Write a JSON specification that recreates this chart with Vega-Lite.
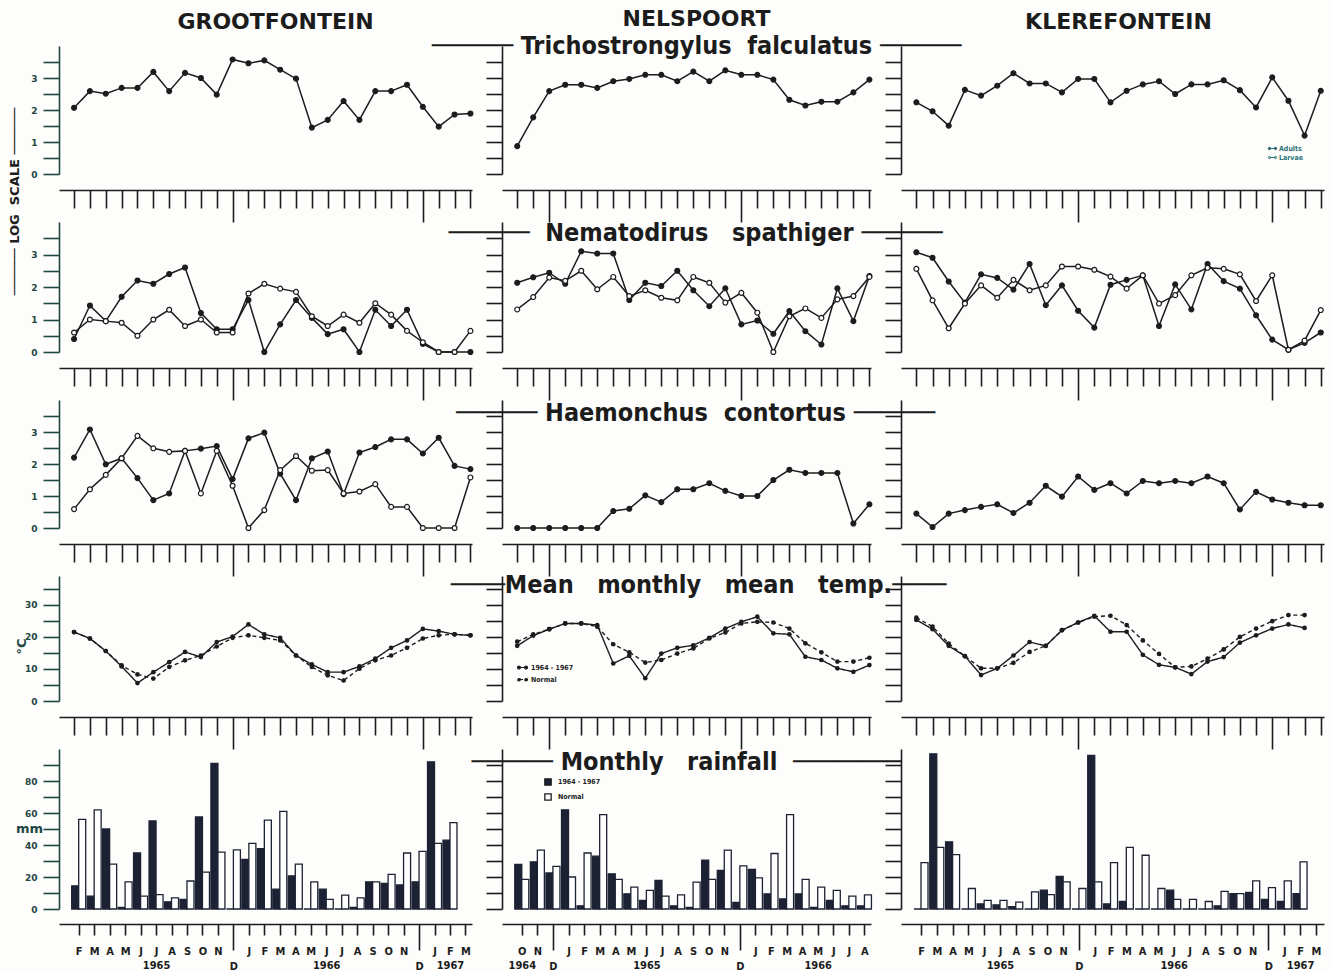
{
"$schema": "https://vega.github.io/schema/vega-lite/v6.json",
"padding": {"left": 8, "top": 8, "right": 5, "bottom": 0},
"background": "#fdfdfb",
"columns": 3,
"spacing": {"row": 48, "column": 30},
"bounds": "flush",
"resolve": {"scale": {"fill": "independent", "strokeDash": "independent"}, "legend": {"fill": "independent", "strokeDash": "independent"}},
"datasets": {
"t_g": [{"m":0,"s":"A","v":2.07},{"m":1,"s":"A","v":2.59},{"m":2,"s":"A","v":2.51},{"m":3,"s":"A","v":2.69},{"m":4,"s":"A","v":2.69},{"m":5,"s":"A","v":3.19},{"m":6,"s":"A","v":2.59},{"m":7,"s":"A","v":3.16},{"m":8,"s":"A","v":3.0},{"m":9,"s":"A","v":2.48},{"m":10,"s":"A","v":3.58},{"m":11,"s":"A","v":3.46},{"m":12,"s":"A","v":3.55},{"m":13,"s":"A","v":3.26},{"m":14,"s":"A","v":2.98},{"m":15,"s":"A","v":1.45},{"m":16,"s":"A","v":1.69},{"m":17,"s":"A","v":2.28},{"m":18,"s":"A","v":1.69},{"m":19,"s":"A","v":2.59},{"m":20,"s":"A","v":2.59},{"m":21,"s":"A","v":2.79},{"m":22,"s":"A","v":2.1},{"m":23,"s":"A","v":1.48},{"m":24,"s":"A","v":1.86},{"m":25,"s":"A","v":1.89}],
"t_n": [{"m":0,"s":"A","v":0.87},{"m":1,"s":"A","v":1.77},{"m":2,"s":"A","v":2.59},{"m":3,"s":"A","v":2.79},{"m":4,"s":"A","v":2.79},{"m":5,"s":"A","v":2.69},{"m":6,"s":"A","v":2.9},{"m":7,"s":"A","v":2.97},{"m":8,"s":"A","v":3.1},{"m":9,"s":"A","v":3.1},{"m":10,"s":"A","v":2.9},{"m":11,"s":"A","v":3.2},{"m":12,"s":"A","v":2.9},{"m":13,"s":"A","v":3.24},{"m":14,"s":"A","v":3.1},{"m":15,"s":"A","v":3.1},{"m":16,"s":"A","v":2.95},{"m":17,"s":"A","v":2.32},{"m":18,"s":"A","v":2.14},{"m":19,"s":"A","v":2.26},{"m":20,"s":"A","v":2.26},{"m":21,"s":"A","v":2.55},{"m":22,"s":"A","v":2.95}],
"t_k": [{"m":0,"s":"A","v":2.24},{"m":1,"s":"A","v":1.96},{"m":2,"s":"A","v":1.51},{"m":3,"s":"A","v":2.63},{"m":4,"s":"A","v":2.45},{"m":5,"s":"A","v":2.76},{"m":6,"s":"A","v":3.15},{"m":7,"s":"A","v":2.83},{"m":8,"s":"A","v":2.83},{"m":9,"s":"A","v":2.55},{"m":10,"s":"A","v":2.97},{"m":11,"s":"A","v":2.97},{"m":12,"s":"A","v":2.24},{"m":13,"s":"A","v":2.6},{"m":14,"s":"A","v":2.8},{"m":15,"s":"A","v":2.9},{"m":16,"s":"A","v":2.5},{"m":17,"s":"A","v":2.8},{"m":18,"s":"A","v":2.8},{"m":19,"s":"A","v":2.93},{"m":20,"s":"A","v":2.62},{"m":21,"s":"A","v":2.08},{"m":22,"s":"A","v":3.02},{"m":23,"s":"A","v":2.29},{"m":24,"s":"A","v":1.2},{"m":25,"s":"A","v":2.6}],
"n_g": [{"m":0,"s":"A","v":0.4},{"m":1,"s":"A","v":1.43},{"m":2,"s":"A","v":0.95},{"m":3,"s":"A","v":1.7},{"m":4,"s":"A","v":2.2},{"m":5,"s":"A","v":2.1},{"m":6,"s":"A","v":2.4},{"m":7,"s":"A","v":2.6},{"m":8,"s":"A","v":1.2},{"m":9,"s":"A","v":0.7},{"m":10,"s":"A","v":0.7},{"m":11,"s":"A","v":1.6},{"m":12,"s":"A","v":0},{"m":13,"s":"A","v":0.85},{"m":14,"s":"A","v":1.6},{"m":15,"s":"A","v":1.05},{"m":16,"s":"A","v":0.55},{"m":17,"s":"A","v":0.7},{"m":18,"s":"A","v":0},{"m":19,"s":"A","v":1.3},{"m":20,"s":"A","v":0.8},{"m":21,"s":"A","v":1.3},{"m":22,"s":"A","v":0.25},{"m":23,"s":"A","v":0},{"m":24,"s":"A","v":0},{"m":25,"s":"A","v":0},
{"m":0,"s":"L","v":0.6},{"m":1,"s":"L","v":1.0},{"m":2,"s":"L","v":0.95},{"m":3,"s":"L","v":0.9},{"m":4,"s":"L","v":0.5},{"m":5,"s":"L","v":1.0},{"m":6,"s":"L","v":1.3},{"m":7,"s":"L","v":0.8},{"m":8,"s":"L","v":1.0},{"m":9,"s":"L","v":0.6},{"m":10,"s":"L","v":0.6},{"m":11,"s":"L","v":1.8},{"m":12,"s":"L","v":2.1},{"m":13,"s":"L","v":1.95},{"m":14,"s":"L","v":1.85},{"m":15,"s":"L","v":1.1},{"m":16,"s":"L","v":0.8},{"m":17,"s":"L","v":1.15},{"m":18,"s":"L","v":0.9},{"m":19,"s":"L","v":1.5},{"m":20,"s":"L","v":1.15},{"m":21,"s":"L","v":0.65},{"m":22,"s":"L","v":0.3},{"m":23,"s":"L","v":0},{"m":24,"s":"L","v":0},{"m":25,"s":"L","v":0.65}],
"n_n": [{"m":0,"s":"A","v":2.13},{"m":1,"s":"A","v":2.3},{"m":2,"s":"A","v":2.44},{"m":3,"s":"A","v":2.1},{"m":4,"s":"A","v":3.1},{"m":5,"s":"A","v":3.03},{"m":6,"s":"A","v":3.03},{"m":7,"s":"A","v":1.6},{"m":8,"s":"A","v":2.13},{"m":9,"s":"A","v":2.03},{"m":10,"s":"A","v":2.5},{"m":11,"s":"A","v":1.9},{"m":12,"s":"A","v":1.41},{"m":13,"s":"A","v":1.96},{"m":14,"s":"A","v":0.85},{"m":15,"s":"A","v":0.97},{"m":16,"s":"A","v":0.56},{"m":17,"s":"A","v":1.26},{"m":18,"s":"A","v":0.64},{"m":19,"s":"A","v":0.23},{"m":20,"s":"A","v":1.96},{"m":21,"s":"A","v":0.95},{"m":22,"s":"A","v":2.34},
{"m":0,"s":"L","v":1.31},{"m":1,"s":"L","v":1.69},{"m":2,"s":"L","v":2.29},{"m":3,"s":"L","v":2.19},{"m":4,"s":"L","v":2.5},{"m":5,"s":"L","v":1.93},{"m":6,"s":"L","v":2.31},{"m":7,"s":"L","v":1.72},{"m":8,"s":"L","v":1.9},{"m":9,"s":"L","v":1.67},{"m":10,"s":"L","v":1.59},{"m":11,"s":"L","v":2.31},{"m":12,"s":"L","v":2.13},{"m":13,"s":"L","v":1.52},{"m":14,"s":"L","v":1.82},{"m":15,"s":"L","v":1.21},{"m":16,"s":"L","v":0},{"m":17,"s":"L","v":1.1},{"m":18,"s":"L","v":1.34},{"m":19,"s":"L","v":1.05},{"m":20,"s":"L","v":1.62},{"m":21,"s":"L","v":1.72},{"m":22,"s":"L","v":2.31}],
"n_k": [{"m":0,"s":"A","v":3.07},{"m":1,"s":"A","v":2.9},{"m":2,"s":"A","v":2.17},{"m":3,"s":"A","v":1.52},{"m":4,"s":"A","v":2.39},{"m":5,"s":"A","v":2.28},{"m":6,"s":"A","v":1.92},{"m":7,"s":"A","v":2.71},{"m":8,"s":"A","v":1.44},{"m":9,"s":"A","v":2.05},{"m":10,"s":"A","v":1.27},{"m":11,"s":"A","v":0.75},{"m":12,"s":"A","v":2.07},{"m":13,"s":"A","v":2.22},{"m":14,"s":"A","v":2.36},{"m":15,"s":"A","v":0.8},{"m":16,"s":"A","v":2.08},{"m":17,"s":"A","v":1.31},{"m":18,"s":"A","v":2.71},{"m":19,"s":"A","v":2.18},{"m":20,"s":"A","v":1.95},{"m":21,"s":"A","v":1.13},{"m":22,"s":"A","v":0.38},{"m":23,"s":"A","v":0.07},{"m":24,"s":"A","v":0.28},{"m":25,"s":"A","v":0.6},
{"m":0,"s":"L","v":2.56},{"m":1,"s":"L","v":1.59},{"m":2,"s":"L","v":0.73},{"m":3,"s":"L","v":1.49},{"m":4,"s":"L","v":2.05},{"m":5,"s":"L","v":1.67},{"m":6,"s":"L","v":2.22},{"m":7,"s":"L","v":1.9},{"m":8,"s":"L","v":2.05},{"m":9,"s":"L","v":2.63},{"m":10,"s":"L","v":2.63},{"m":11,"s":"L","v":2.53},{"m":12,"s":"L","v":2.32},{"m":13,"s":"L","v":1.95},{"m":14,"s":"L","v":2.36},{"m":15,"s":"L","v":1.49},{"m":16,"s":"L","v":1.75},{"m":17,"s":"L","v":2.36},{"m":18,"s":"L","v":2.59},{"m":19,"s":"L","v":2.56},{"m":20,"s":"L","v":2.39},{"m":21,"s":"L","v":1.57},{"m":22,"s":"L","v":2.36},{"m":23,"s":"L","v":0.07},{"m":24,"s":"L","v":0.35},{"m":25,"s":"L","v":1.29}],
"h_g": [{"m":0,"s":"A","v":2.2},{"m":1,"s":"A","v":3.08},{"m":2,"s":"A","v":1.99},{"m":3,"s":"A","v":2.18},{"m":4,"s":"A","v":1.56},{"m":5,"s":"A","v":0.87},{"m":6,"s":"A","v":1.08},{"m":7,"s":"A","v":2.41},{"m":8,"s":"A","v":2.48},{"m":9,"s":"A","v":2.56},{"m":10,"s":"A","v":1.53},{"m":11,"s":"A","v":2.8},{"m":12,"s":"A","v":2.98},{"m":13,"s":"A","v":1.7},{"m":14,"s":"A","v":0.87},{"m":15,"s":"A","v":2.18},{"m":16,"s":"A","v":2.39},{"m":17,"s":"A","v":1.06},{"m":18,"s":"A","v":2.36},{"m":19,"s":"A","v":2.53},{"m":20,"s":"A","v":2.77},{"m":21,"s":"A","v":2.77},{"m":22,"s":"A","v":2.33},{"m":23,"s":"A","v":2.82},{"m":24,"s":"A","v":1.94},{"m":25,"s":"A","v":1.84},
{"m":0,"s":"L","v":0.59},{"m":1,"s":"L","v":1.21},{"m":2,"s":"L","v":1.66},{"m":3,"s":"L","v":2.18},{"m":4,"s":"L","v":2.88},{"m":5,"s":"L","v":2.49},{"m":6,"s":"L","v":2.38},{"m":7,"s":"L","v":2.41},{"m":8,"s":"L","v":1.08},{"m":9,"s":"L","v":2.41},{"m":10,"s":"L","v":1.32},{"m":11,"s":"L","v":0},{"m":12,"s":"L","v":0.56},{"m":13,"s":"L","v":1.81},{"m":14,"s":"L","v":2.25},{"m":15,"s":"L","v":1.79},{"m":16,"s":"L","v":1.81},{"m":17,"s":"L","v":1.08},{"m":18,"s":"L","v":1.14},{"m":19,"s":"L","v":1.37},{"m":20,"s":"L","v":0.66},{"m":21,"s":"L","v":0.66},{"m":22,"s":"L","v":0},{"m":23,"s":"L","v":0},{"m":24,"s":"L","v":0},{"m":25,"s":"L","v":1.58}],
"h_n": [{"m":0,"s":"A","v":0},{"m":1,"s":"A","v":0},{"m":2,"s":"A","v":0},{"m":3,"s":"A","v":0},{"m":4,"s":"A","v":0},{"m":5,"s":"A","v":0},{"m":6,"s":"A","v":0.53},{"m":7,"s":"A","v":0.6},{"m":8,"s":"A","v":1.02},{"m":9,"s":"A","v":0.81},{"m":10,"s":"A","v":1.21},{"m":11,"s":"A","v":1.21},{"m":12,"s":"A","v":1.4},{"m":13,"s":"A","v":1.16},{"m":14,"s":"A","v":1.0},{"m":15,"s":"A","v":1.0},{"m":16,"s":"A","v":1.5},{"m":17,"s":"A","v":1.82},{"m":18,"s":"A","v":1.72},{"m":19,"s":"A","v":1.72},{"m":20,"s":"A","v":1.72},{"m":21,"s":"A","v":0.14},{"m":22,"s":"A","v":0.74}],
"h_k": [{"m":0,"s":"A","v":0.45},{"m":1,"s":"A","v":0.03},{"m":2,"s":"A","v":0.45},{"m":3,"s":"A","v":0.56},{"m":4,"s":"A","v":0.66},{"m":5,"s":"A","v":0.74},{"m":6,"s":"A","v":0.47},{"m":7,"s":"A","v":0.79},{"m":8,"s":"A","v":1.32},{"m":9,"s":"A","v":0.98},{"m":10,"s":"A","v":1.61},{"m":11,"s":"A","v":1.19},{"m":12,"s":"A","v":1.4},{"m":13,"s":"A","v":1.08},{"m":14,"s":"A","v":1.47},{"m":15,"s":"A","v":1.4},{"m":16,"s":"A","v":1.47},{"m":17,"s":"A","v":1.4},{"m":18,"s":"A","v":1.61},{"m":19,"s":"A","v":1.4},{"m":20,"s":"A","v":0.58},{"m":21,"s":"A","v":1.13},{"m":22,"s":"A","v":0.89},{"m":23,"s":"A","v":0.79},{"m":24,"s":"A","v":0.71},{"m":25,"s":"A","v":0.71}],
"c_g": [{"m":0,"s":"A","v":21.5},{"m":1,"s":"A","v":19.5},{"m":2,"s":"A","v":15.6},{"m":3,"s":"A","v":10.8},{"m":4,"s":"A","v":5.6},{"m":5,"s":"A","v":9.0},{"m":6,"s":"A","v":12.1},{"m":7,"s":"A","v":15.3},{"m":8,"s":"A","v":13.7},{"m":9,"s":"A","v":18.4},{"m":10,"s":"A","v":20.1},{"m":11,"s":"A","v":23.9},{"m":12,"s":"A","v":20.8},{"m":13,"s":"A","v":19.7},{"m":14,"s":"A","v":14.2},{"m":15,"s":"A","v":11.4},{"m":16,"s":"A","v":9.0},{"m":17,"s":"A","v":9.0},{"m":18,"s":"A","v":10.8},{"m":19,"s":"A","v":13.2},{"m":20,"s":"A","v":16.6},{"m":21,"s":"A","v":18.9},{"m":22,"s":"A","v":22.5},{"m":23,"s":"A","v":21.8},{"m":24,"s":"A","v":20.8},{"m":25,"s":"A","v":20.5},
{"m":0,"s":"N","v":21.5},{"m":1,"s":"N","v":19.5},{"m":2,"s":"N","v":15.6},{"m":3,"s":"N","v":11.1},{"m":4,"s":"N","v":8.3},{"m":5,"s":"N","v":7.0},{"m":6,"s":"N","v":10.6},{"m":7,"s":"N","v":12.7},{"m":8,"s":"N","v":14.2},{"m":9,"s":"N","v":17.0},{"m":10,"s":"N","v":19.7},{"m":11,"s":"N","v":20.5},{"m":12,"s":"N","v":19.7},{"m":13,"s":"N","v":18.9},{"m":14,"s":"N","v":14.2},{"m":15,"s":"N","v":10.6},{"m":16,"s":"N","v":8.0},{"m":17,"s":"N","v":6.4},{"m":18,"s":"N","v":10.1},{"m":19,"s":"N","v":12.7},{"m":20,"s":"N","v":14.2},{"m":21,"s":"N","v":16.6},{"m":22,"s":"N","v":19.5},{"m":23,"s":"N","v":20.5},{"m":24,"s":"N","v":20.8},{"m":25,"s":"N","v":20.5}],
"c_n": [{"m":0,"s":"A","v":17.2},{"m":1,"s":"A","v":20.4},{"m":2,"s":"A","v":22.4},{"m":3,"s":"A","v":24.2},{"m":4,"s":"A","v":24.2},{"m":5,"s":"A","v":23.7},{"m":6,"s":"A","v":11.7},{"m":7,"s":"A","v":14.1},{"m":8,"s":"A","v":7.1},{"m":9,"s":"A","v":14.8},{"m":10,"s":"A","v":16.6},{"m":11,"s":"A","v":17.4},{"m":12,"s":"A","v":19.7},{"m":13,"s":"A","v":22.6},{"m":14,"s":"A","v":24.7},{"m":15,"s":"A","v":26.3},{"m":16,"s":"A","v":21.1},{"m":17,"s":"A","v":20.8},{"m":18,"s":"A","v":13.8},{"m":19,"s":"A","v":12.8},{"m":20,"s":"A","v":10.2},{"m":21,"s":"A","v":9.1},{"m":22,"s":"A","v":11.2},
{"m":0,"s":"N","v":18.5},{"m":1,"s":"N","v":20.8},{"m":2,"s":"N","v":22.4},{"m":3,"s":"N","v":24.2},{"m":4,"s":"N","v":24.2},{"m":5,"s":"N","v":23.2},{"m":6,"s":"N","v":17.7},{"m":7,"s":"N","v":15.2},{"m":8,"s":"N","v":12.0},{"m":9,"s":"N","v":12.8},{"m":10,"s":"N","v":14.8},{"m":11,"s":"N","v":16.4},{"m":12,"s":"N","v":19.5},{"m":13,"s":"N","v":21.4},{"m":14,"s":"N","v":24.2},{"m":15,"s":"N","v":24.7},{"m":16,"s":"N","v":24.5},{"m":17,"s":"N","v":22.6},{"m":18,"s":"N","v":18.0},{"m":19,"s":"N","v":15.2},{"m":20,"s":"N","v":12.3},{"m":21,"s":"N","v":12.3},{"m":22,"s":"N","v":13.5}],
"c_k": [{"m":0,"s":"A","v":25.3},{"m":1,"s":"A","v":22.4},{"m":2,"s":"A","v":17.2},{"m":3,"s":"A","v":14.0},{"m":4,"s":"A","v":8.1},{"m":5,"s":"A","v":10.2},{"m":6,"s":"A","v":14.2},{"m":7,"s":"A","v":18.4},{"m":8,"s":"A","v":17.2},{"m":9,"s":"A","v":22.1},{"m":10,"s":"A","v":24.5},{"m":11,"s":"A","v":26.6},{"m":12,"s":"A","v":21.6},{"m":13,"s":"A","v":21.6},{"m":14,"s":"A","v":14.4},{"m":15,"s":"A","v":11.3},{"m":16,"s":"A","v":10.5},{"m":17,"s":"A","v":8.4},{"m":18,"s":"A","v":12.3},{"m":19,"s":"A","v":13.7},{"m":20,"s":"A","v":18.2},{"m":21,"s":"A","v":20.5},{"m":22,"s":"A","v":22.6},{"m":23,"s":"A","v":23.9},{"m":24,"s":"A","v":22.8},
{"m":0,"s":"N","v":26.0},{"m":1,"s":"N","v":23.2},{"m":2,"s":"N","v":17.9},{"m":3,"s":"N","v":14.0},{"m":4,"s":"N","v":10.2},{"m":5,"s":"N","v":10.2},{"m":6,"s":"N","v":11.9},{"m":7,"s":"N","v":15.3},{"m":8,"s":"N","v":17.2},{"m":9,"s":"N","v":22.1},{"m":10,"s":"N","v":24.5},{"m":11,"s":"N","v":26.3},{"m":12,"s":"N","v":26.6},{"m":13,"s":"N","v":23.7},{"m":14,"s":"N","v":18.9},{"m":15,"s":"N","v":14.7},{"m":16,"s":"N","v":10.5},{"m":17,"s":"N","v":10.8},{"m":18,"s":"N","v":13.2},{"m":19,"s":"N","v":16.1},{"m":20,"s":"N","v":20.0},{"m":21,"s":"N","v":22.6},{"m":22,"s":"N","v":24.9},{"m":23,"s":"N","v":26.8},{"m":24,"s":"N","v":26.8}],
"r_g": [{"m":0,"s":"A","v":14.5},{"m":1,"s":"A","v":8},{"m":2,"s":"A","v":50},{"m":3,"s":"A","v":1},{"m":4,"s":"A","v":35},{"m":5,"s":"A","v":55},{"m":6,"s":"A","v":4.5},{"m":7,"s":"A","v":6},{"m":8,"s":"A","v":57.5},{"m":9,"s":"A","v":91},{"m":10,"s":"A","v":0},{"m":11,"s":"A","v":31},{"m":12,"s":"A","v":37.7},{"m":13,"s":"A","v":12.4},{"m":14,"s":"A","v":20.7},{"m":15,"s":"A","v":0},{"m":16,"s":"A","v":12.4},{"m":17,"s":"A","v":0},{"m":18,"s":"A","v":1},{"m":19,"s":"A","v":17},{"m":20,"s":"A","v":16},{"m":21,"s":"A","v":15},{"m":22,"s":"A","v":17},{"m":23,"s":"A","v":92},{"m":24,"s":"A","v":43},
{"m":0,"s":"N","v":56},{"m":1,"s":"N","v":62},{"m":2,"s":"N","v":28},{"m":3,"s":"N","v":17},{"m":4,"s":"N","v":8},{"m":5,"s":"N","v":9},{"m":6,"s":"N","v":7},{"m":7,"s":"N","v":17.5},{"m":8,"s":"N","v":23},{"m":9,"s":"N","v":35.6},{"m":10,"s":"N","v":37},{"m":11,"s":"N","v":41},{"m":12,"s":"N","v":55.5},{"m":13,"s":"N","v":61},{"m":14,"s":"N","v":28},{"m":15,"s":"N","v":17},{"m":16,"s":"N","v":6},{"m":17,"s":"N","v":8.7},{"m":18,"s":"N","v":7},{"m":19,"s":"N","v":17},{"m":20,"s":"N","v":21.7},{"m":21,"s":"N","v":35},{"m":22,"s":"N","v":36},{"m":23,"s":"N","v":41},{"m":24,"s":"N","v":54}],
"r_n": [{"m":0,"s":"A","v":27.8},{"m":1,"s":"A","v":29.5},{"m":2,"s":"A","v":22.5},{"m":3,"s":"A","v":62},{"m":4,"s":"A","v":2},{"m":5,"s":"A","v":33},{"m":6,"s":"A","v":22},{"m":7,"s":"A","v":9.5},{"m":8,"s":"A","v":5.3},{"m":9,"s":"A","v":17.9},{"m":10,"s":"A","v":2},{"m":11,"s":"A","v":1},{"m":12,"s":"A","v":30.5},{"m":13,"s":"A","v":24.2},{"m":14,"s":"A","v":4.2},{"m":15,"s":"A","v":24.8},{"m":16,"s":"A","v":9.5},{"m":17,"s":"A","v":6.3},{"m":18,"s":"A","v":9.5},{"m":19,"s":"A","v":1},{"m":20,"s":"A","v":5.3},{"m":21,"s":"A","v":2},{"m":22,"s":"A","v":2},
{"m":0,"s":"N","v":18.5},{"m":1,"s":"N","v":36.8},{"m":2,"s":"N","v":26.7},{"m":3,"s":"N","v":20},{"m":4,"s":"N","v":35},{"m":5,"s":"N","v":59},{"m":6,"s":"N","v":18.5},{"m":7,"s":"N","v":13.7},{"m":8,"s":"N","v":11.6},{"m":9,"s":"N","v":8},{"m":10,"s":"N","v":8.8},{"m":11,"s":"N","v":16.8},{"m":12,"s":"N","v":18.5},{"m":13,"s":"N","v":36.8},{"m":14,"s":"N","v":27},{"m":15,"s":"N","v":19.4},{"m":16,"s":"N","v":34.7},{"m":17,"s":"N","v":59},{"m":18,"s":"N","v":18.5},{"m":19,"s":"N","v":13.7},{"m":20,"s":"N","v":11.6},{"m":21,"s":"N","v":8},{"m":22,"s":"N","v":8.8}],
"r_k": [{"m":0,"s":"A","v":0},{"m":1,"s":"A","v":97},{"m":2,"s":"A","v":42},{"m":3,"s":"A","v":0},{"m":4,"s":"A","v":3.2},{"m":5,"s":"A","v":2.6},{"m":6,"s":"A","v":1.5},{"m":7,"s":"A","v":0},{"m":8,"s":"A","v":11.8},{"m":9,"s":"A","v":20.3},{"m":10,"s":"A","v":0},{"m":11,"s":"A","v":96},{"m":12,"s":"A","v":3.2},{"m":13,"s":"A","v":4.7},{"m":14,"s":"A","v":0},{"m":15,"s":"A","v":0},{"m":16,"s":"A","v":11.8},{"m":17,"s":"A","v":0},{"m":18,"s":"A","v":0},{"m":19,"s":"A","v":2},{"m":20,"s":"A","v":9.6},{"m":21,"s":"A","v":10.3},{"m":22,"s":"A","v":6},{"m":23,"s":"A","v":4.7},{"m":24,"s":"A","v":9.6},
{"m":0,"s":"N","v":29},{"m":1,"s":"N","v":38.5},{"m":2,"s":"N","v":34},{"m":3,"s":"N","v":12.8},{"m":4,"s":"N","v":5.4},{"m":5,"s":"N","v":5.4},{"m":6,"s":"N","v":4.3},{"m":7,"s":"N","v":10.7},{"m":8,"s":"N","v":9},{"m":9,"s":"N","v":17},{"m":10,"s":"N","v":12.8},{"m":11,"s":"N","v":17},{"m":12,"s":"N","v":29},{"m":13,"s":"N","v":38.5},{"m":14,"s":"N","v":33.6},{"m":15,"s":"N","v":12.8},{"m":16,"s":"N","v":6},{"m":17,"s":"N","v":6},{"m":18,"s":"N","v":4.7},{"m":19,"s":"N","v":11},{"m":20,"s":"N","v":9.6},{"m":21,"s":"N","v":17.6},{"m":22,"s":"N","v":13.3},{"m":23,"s":"N","v":17.6},{"m":24,"s":"N","v":29.5}]
},
"concat": [
{
 "width": 413, "height": 128,
 "title": {"text": "GROOTFONTEIN", "font": "DejaVu Sans", "fontSize": 22, "offset": 12, "dx": 10, "frame": "group"},
 "data": {"name": "t_g"},
 "encoding": {
  "x": {"field": "m", "type": "quantitative", "scale": {"domain": [-0.95, 25.1]}, "axis": {"title": null, "values": [0,1,2,3,4,5,6,7,8,9,10,11,12,13,14,15,16,17,18,19,20,21,22,23,24,25], "tickSize": {"condition": {"test": "datum.value == 10 || datum.value == 22", "value": 32}, "value": 18}}},
  "y": {"field": "v", "type": "quantitative", "scale": {"domain": [0, 4]}, "axis": {"title": "\u2500\u2500\u2500\u2500\u2500\u2500\u00a0LOG\u00a0\u00a0SCALE\u00a0\u2500\u2500\u2500\u2500\u2500\u2500", "titleX": -45, "titleY": 155, "titleAngle": 270, "titleAlign": "center", "titleBaseline": "middle", "titleFontSize": 13, "titleFont": "DejaVu Sans", "titleFontWeight": "bold", "titleColor": "#1c1c1c", "values": [0,0.5,1,1.5,2,2.5,3,3.5], "labels": true, "labelExpr": "datum.value % 1 == 0 ? format(datum.value, 'd') : ''", "labelPadding": 6, "domainColor": "#1f4742", "tickColor": "#1f4742", "labelColor": "#1f4742"}}
 },
 "layer": [
  {"mark": {"type": "line", "color": "#1c1c1c", "strokeWidth": 1.5}, "encoding": {"detail": {"field": "s"}}},
  {"mark": {"type": "point", "shape": "circle", "filled": true, "size": 24, "stroke": "#1c1c1c", "strokeWidth": 1.2, "opacity": 1}, "encoding": {"fill": {"field": "s", "type": "nominal", "scale": {"domain": ["A", "L"], "range": ["#1c1c1c", "#ffffff"]}, "legend": null}}}
 ]
},
{
 "width": 369, "height": 128,
 "title": {"text": "NELSPOORT", "font": "DejaVu Sans", "fontSize": 22, "subtitle": "\u2500\u2500\u2500\u2500\u2500\u2500\u00a0Trichostrongylus\u00a0\u00a0falculatus\u00a0\u2500\u2500\u2500\u2500\u2500\u2500", "subtitleFont": "Liberation Sans Narrow, DejaVu Sans Condensed, DejaVu Sans", "subtitleFontSize": 25, "subtitleFontWeight": "bold", "subtitleColor": "#1c1c1c", "subtitlePadding": 3, "offset": -14, "dx": 10, "frame": "group"},
 "data": {"name": "t_n"},
 "encoding": {
  "x": {"field": "m", "type": "quantitative", "scale": {"domain": [-0.95, 22.1]}, "axis": {"title": null, "values": [0,1,2,3,4,5,6,7,8,9,10,11,12,13,14,15,16,17,18,19,20,21,22], "tickSize": {"condition": {"test": "datum.value == 2 || datum.value == 14", "value": 32}, "value": 18}}},
  "y": {"field": "v", "type": "quantitative", "scale": {"domain": [0, 4]}, "axis": {"title": null, "values": [0,0.5,1,1.5,2,2.5,3,3.5]}}
 },
 "layer": [
  {"mark": {"type": "line", "color": "#1c1c1c", "strokeWidth": 1.5}, "encoding": {"detail": {"field": "s"}}},
  {"mark": {"type": "point", "shape": "circle", "filled": true, "size": 24, "stroke": "#1c1c1c", "strokeWidth": 1.2, "opacity": 1}, "encoding": {"fill": {"field": "s", "type": "nominal", "scale": {"domain": ["A", "L"], "range": ["#1c1c1c", "#ffffff"]}, "legend": null}}}
 ]
},
{
 "width": 423, "height": 128,
 "title": {"text": "KLEREFONTEIN", "font": "DejaVu Sans", "fontSize": 22, "offset": 12, "dx": 6, "frame": "group"},
 "data": {"name": "t_k"},
 "encoding": {
  "x": {"field": "m", "type": "quantitative", "scale": {"domain": [-0.95, 25.2]}, "axis": {"title": null, "values": [0,1,2,3,4,5,6,7,8,9,10,11,12,13,14,15,16,17,18,19,20,21,22,23,24,25], "tickSize": {"condition": {"test": "datum.value == 10 || datum.value == 22", "value": 32}, "value": 18}}},
  "y": {"field": "v", "type": "quantitative", "scale": {"domain": [0, 4]}, "axis": {"title": null, "values": [0,0.5,1,1.5,2,2.5,3,3.5]}}
 },
 "layer": [
  {"mark": {"type": "line", "color": "#1c1c1c", "strokeWidth": 1.5}, "encoding": {"detail": {"field": "s"}}},
  {"mark": {"type": "point", "shape": "circle", "filled": true, "size": 24, "stroke": "#1c1c1c", "strokeWidth": 1.2, "opacity": 1}, "encoding": {"fill": {"field": "s", "type": "nominal", "scale": {"domain": ["A", "L"], "range": ["#1c1c1c", "#ffffff"]}, "legend": {"title": null, "orient": "none", "legendX": 368, "legendY": 99, "symbolType": "M-1,0H1M-0.6,0A0.4,0.4 0 1 1 -1.4,0A0.4,0.4 0 1 1 -0.6,0ZM1.4,0A0.4,0.4 0 1 1 0.6,0A0.4,0.4 0 1 1 1.4,0Z", "symbolSize": 36, "symbolStrokeColor": "#2c7479", "symbolStrokeWidth": 1, "labelFontSize": 7, "labelFont": "DejaVu Sans Condensed, DejaVu Sans", "labelFontWeight": "bold", "labelColor": "#2c7479", "labelOffset": 3, "rowPadding": 1, "labelExpr": "datum.label == 'A' ? 'Adults' : 'Larvae'"}}}}
 ]
},
{
 "width": 413, "height": 130,
 "data": {"name": "n_g"},
 "encoding": {
  "x": {"field": "m", "type": "quantitative", "scale": {"domain": [-0.95, 25.1]}, "axis": {"title": null, "values": [0,1,2,3,4,5,6,7,8,9,10,11,12,13,14,15,16,17,18,19,20,21,22,23,24,25], "tickSize": {"condition": {"test": "datum.value == 10 || datum.value == 22", "value": 32}, "value": 18}}},
  "y": {"field": "v", "type": "quantitative", "scale": {"domain": [0, 4]}, "axis": {"title": null, "values": [0,0.5,1,1.5,2,2.5,3,3.5], "labels": true, "labelExpr": "datum.value % 1 == 0 ? format(datum.value, 'd') : ''", "labelPadding": 6, "domainColor": "#1f4742", "tickColor": "#1f4742", "labelColor": "#1f4742"}}
 },
 "layer": [
  {"mark": {"type": "line", "color": "#1c1c1c", "strokeWidth": 1.5}, "encoding": {"detail": {"field": "s"}}},
  {"mark": {"type": "point", "shape": "circle", "filled": true, "size": 24, "stroke": "#1c1c1c", "strokeWidth": 1.2, "opacity": 1}, "encoding": {"fill": {"field": "s", "type": "nominal", "scale": {"domain": ["A", "L"], "range": ["#1c1c1c", "#ffffff"]}, "legend": null}}}
 ]
},
{
 "width": 369, "height": 130,
 "title": {"text": "\u2500\u2500\u2500\u2500\u2500\u2500\u00a0\u00a0Nematodirus\u00a0\u00a0\u00a0spathiger\u00a0\u2500\u2500\u2500\u2500\u2500\u2500", "font": "Liberation Sans Narrow, DejaVu Sans Condensed, DejaVu Sans", "fontSize": 25, "offset": -24, "dx": 9, "frame": "group"},
 "data": {"name": "n_n"},
 "encoding": {
  "x": {"field": "m", "type": "quantitative", "scale": {"domain": [-0.95, 22.1]}, "axis": {"title": null, "values": [0,1,2,3,4,5,6,7,8,9,10,11,12,13,14,15,16,17,18,19,20,21,22], "tickSize": {"condition": {"test": "datum.value == 2 || datum.value == 14", "value": 32}, "value": 18}}},
  "y": {"field": "v", "type": "quantitative", "scale": {"domain": [0, 4]}, "axis": {"title": null, "values": [0,0.5,1,1.5,2,2.5,3,3.5]}}
 },
 "layer": [
  {"mark": {"type": "line", "color": "#1c1c1c", "strokeWidth": 1.5}, "encoding": {"detail": {"field": "s"}}},
  {"mark": {"type": "point", "shape": "circle", "filled": true, "size": 24, "stroke": "#1c1c1c", "strokeWidth": 1.2, "opacity": 1}, "encoding": {"fill": {"field": "s", "type": "nominal", "scale": {"domain": ["A", "L"], "range": ["#1c1c1c", "#ffffff"]}, "legend": null}}}
 ]
},
{
 "width": 423, "height": 130,
 "data": {"name": "n_k"},
 "encoding": {
  "x": {"field": "m", "type": "quantitative", "scale": {"domain": [-0.95, 25.2]}, "axis": {"title": null, "values": [0,1,2,3,4,5,6,7,8,9,10,11,12,13,14,15,16,17,18,19,20,21,22,23,24,25], "tickSize": {"condition": {"test": "datum.value == 10 || datum.value == 22", "value": 32}, "value": 18}}},
  "y": {"field": "v", "type": "quantitative", "scale": {"domain": [0, 4]}, "axis": {"title": null, "values": [0,0.5,1,1.5,2,2.5,3,3.5]}}
 },
 "layer": [
  {"mark": {"type": "line", "color": "#1c1c1c", "strokeWidth": 1.5}, "encoding": {"detail": {"field": "s"}}},
  {"mark": {"type": "point", "shape": "circle", "filled": true, "size": 24, "stroke": "#1c1c1c", "strokeWidth": 1.2, "opacity": 1}, "encoding": {"fill": {"field": "s", "type": "nominal", "scale": {"domain": ["A", "L"], "range": ["#1c1c1c", "#ffffff"]}, "legend": null}}}
 ]
},
{
 "width": 413, "height": 128,
 "data": {"name": "h_g"},
 "encoding": {
  "x": {"field": "m", "type": "quantitative", "scale": {"domain": [-0.95, 25.1]}, "axis": {"title": null, "values": [0,1,2,3,4,5,6,7,8,9,10,11,12,13,14,15,16,17,18,19,20,21,22,23,24,25], "tickSize": {"condition": {"test": "datum.value == 10 || datum.value == 22", "value": 32}, "value": 18}}},
  "y": {"field": "v", "type": "quantitative", "scale": {"domain": [0, 4]}, "axis": {"title": null, "values": [0,0.5,1,1.5,2,2.5,3,3.5], "labels": true, "labelExpr": "datum.value % 1 == 0 ? format(datum.value, 'd') : ''", "labelPadding": 6, "domainColor": "#1f4742", "tickColor": "#1f4742", "labelColor": "#1f4742"}}
 },
 "layer": [
  {"mark": {"type": "line", "color": "#1c1c1c", "strokeWidth": 1.5}, "encoding": {"detail": {"field": "s"}}},
  {"mark": {"type": "point", "shape": "circle", "filled": true, "size": 24, "stroke": "#1c1c1c", "strokeWidth": 1.2, "opacity": 1}, "encoding": {"fill": {"field": "s", "type": "nominal", "scale": {"domain": ["A", "L"], "range": ["#1c1c1c", "#ffffff"]}, "legend": null}}}
 ]
},
{
 "width": 369, "height": 128,
 "title": {"text": "\u2500\u2500\u2500\u2500\u2500\u2500\u00a0Haemonchus\u00a0\u00a0contortus\u00a0\u2500\u2500\u2500\u2500\u2500\u2500", "font": "Liberation Sans Narrow, DejaVu Sans Condensed, DejaVu Sans", "fontSize": 25, "offset": -26, "dx": 9, "frame": "group"},
 "data": {"name": "h_n"},
 "encoding": {
  "x": {"field": "m", "type": "quantitative", "scale": {"domain": [-0.95, 22.1]}, "axis": {"title": null, "values": [0,1,2,3,4,5,6,7,8,9,10,11,12,13,14,15,16,17,18,19,20,21,22], "tickSize": {"condition": {"test": "datum.value == 2 || datum.value == 14", "value": 32}, "value": 18}}},
  "y": {"field": "v", "type": "quantitative", "scale": {"domain": [0, 4]}, "axis": {"title": null, "values": [0,0.5,1,1.5,2,2.5,3,3.5]}}
 },
 "layer": [
  {"mark": {"type": "line", "color": "#1c1c1c", "strokeWidth": 1.5}, "encoding": {"detail": {"field": "s"}}},
  {"mark": {"type": "point", "shape": "circle", "filled": true, "size": 24, "stroke": "#1c1c1c", "strokeWidth": 1.2, "opacity": 1}, "encoding": {"fill": {"field": "s", "type": "nominal", "scale": {"domain": ["A", "L"], "range": ["#1c1c1c", "#ffffff"]}, "legend": null}}}
 ]
},
{
 "width": 423, "height": 128,
 "data": {"name": "h_k"},
 "encoding": {
  "x": {"field": "m", "type": "quantitative", "scale": {"domain": [-0.95, 25.2]}, "axis": {"title": null, "values": [0,1,2,3,4,5,6,7,8,9,10,11,12,13,14,15,16,17,18,19,20,21,22,23,24,25], "tickSize": {"condition": {"test": "datum.value == 10 || datum.value == 22", "value": 32}, "value": 18}}},
  "y": {"field": "v", "type": "quantitative", "scale": {"domain": [0, 4]}, "axis": {"title": null, "values": [0,0.5,1,1.5,2,2.5,3,3.5]}}
 },
 "layer": [
  {"mark": {"type": "line", "color": "#1c1c1c", "strokeWidth": 1.5}, "encoding": {"detail": {"field": "s"}}},
  {"mark": {"type": "point", "shape": "circle", "filled": true, "size": 24, "stroke": "#1c1c1c", "strokeWidth": 1.2, "opacity": 1}, "encoding": {"fill": {"field": "s", "type": "nominal", "scale": {"domain": ["A", "L"], "range": ["#1c1c1c", "#ffffff"]}, "legend": null}}}
 ]
},
{
 "width": 413, "height": 125,
 "data": {"name": "c_g"},
 "encoding": {
  "x": {"field": "m", "type": "quantitative", "scale": {"domain": [-0.95, 25.1]}, "axis": {"title": null, "values": [0,1,2,3,4,5,6,7,8,9,10,11,12,13,14,15,16,17,18,19,20,21,22,23,24,25], "tickSize": {"condition": {"test": "datum.value == 10 || datum.value == 22", "value": 32}, "value": 18}}},
  "y": {"field": "v", "type": "quantitative", "scale": {"domain": [0, 39]}, "axis": {"title": "\u00b0C", "titleX": -38, "titleY": 70, "titleAngle": 270, "titleAlign": "center", "titleBaseline": "middle", "titleFontSize": 13, "titleFont": "DejaVu Sans", "titleFontWeight": "bold", "titleColor": "#1f4742", "values": [0,5,10,15,20,25,30,35], "labels": true, "labelExpr": "datum.value % 10 == 0 ? datum.label : ''", "labelPadding": 6, "domainColor": "#1f4742", "tickColor": "#1f4742", "labelColor": "#1f4742"}}
 },
 "layer": [
  {"mark": {"type": "line", "color": "#1c1c1c", "strokeWidth": 1.4}, "encoding": {"strokeDash": {"field": "s", "type": "nominal", "scale": {"domain": ["A", "N"], "range": [[1, 0], [4, 3]]}, "legend": null}}},
  {"mark": {"type": "point", "shape": "circle", "filled": true, "size": 22, "color": "#1c1c1c", "opacity": 1}, "encoding": {"detail": {"field": "s"}}}
 ]
},
{
 "width": 369, "height": 125,
 "title": {"text": "\u2500\u2500\u2500\u2500Mean\u00a0\u00a0\u00a0monthly\u00a0\u00a0\u00a0mean\u00a0\u00a0\u00a0temp.\u2500\u2500\u2500\u2500", "font": "Liberation Sans Narrow, DejaVu Sans Condensed, DejaVu Sans", "fontSize": 25, "offset": -22, "dx": 12, "frame": "group"},
 "data": {"name": "c_n"},
 "encoding": {
  "x": {"field": "m", "type": "quantitative", "scale": {"domain": [-0.95, 22.1]}, "axis": {"title": null, "values": [0,1,2,3,4,5,6,7,8,9,10,11,12,13,14,15,16,17,18,19,20,21,22], "tickSize": {"condition": {"test": "datum.value == 2 || datum.value == 14", "value": 32}, "value": 18}}},
  "y": {"field": "v", "type": "quantitative", "scale": {"domain": [0, 39]}, "axis": {"title": null, "values": [0,5,10,15,20,25,30,35]}}
 },
 "layer": [
  {"mark": {"type": "line", "color": "#1c1c1c", "strokeWidth": 1.4}, "encoding": {"strokeDash": {"field": "s", "type": "nominal", "scale": {"domain": ["A", "N"], "range": [[1, 0], [4, 3]]}, "legend": {"title": null, "orient": "none", "legendX": 16, "legendY": 87, "symbolType": "M-1,0H1M-0.6,0A0.4,0.4 0 1 1 -1.4,0A0.4,0.4 0 1 1 -0.6,0ZM1.4,0A0.4,0.4 0 1 1 0.6,0A0.4,0.4 0 1 1 1.4,0Z", "symbolSize": 50, "symbolStrokeColor": "#1c1c1c", "symbolFillColor": "#1c1c1c", "symbolStrokeWidth": 1.2, "labelFontSize": 7, "labelFont": "DejaVu Sans Condensed, DejaVu Sans", "labelFontWeight": "bold", "labelColor": "#1c1c1c", "labelOffset": 4, "rowPadding": 3, "labelExpr": "datum.label == 'A' ? '1964 - 1967' : 'Normal'"}}}},
  {"mark": {"type": "point", "shape": "circle", "filled": true, "size": 22, "color": "#1c1c1c", "opacity": 1}, "encoding": {"detail": {"field": "s"}}}
 ]
},
{
 "width": 423, "height": 125,
 "data": {"name": "c_k"},
 "encoding": {
  "x": {"field": "m", "type": "quantitative", "scale": {"domain": [-0.95, 25.2]}, "axis": {"title": null, "values": [0,1,2,3,4,5,6,7,8,9,10,11,12,13,14,15,16,17,18,19,20,21,22,23,24,25], "tickSize": {"condition": {"test": "datum.value == 10 || datum.value == 22", "value": 32}, "value": 18}}},
  "y": {"field": "v", "type": "quantitative", "scale": {"domain": [0, 39]}, "axis": {"title": null, "values": [0,5,10,15,20,25,30,35]}}
 },
 "layer": [
  {"mark": {"type": "line", "color": "#1c1c1c", "strokeWidth": 1.4}, "encoding": {"strokeDash": {"field": "s", "type": "nominal", "scale": {"domain": ["A", "N"], "range": [[1, 0], [4, 3]]}, "legend": null}}},
  {"mark": {"type": "point", "shape": "circle", "filled": true, "size": 22, "color": "#1c1c1c", "opacity": 1}, "encoding": {"detail": {"field": "s"}}}
 ]
},
{
 "width": 413, "height": 160,
 "data": {"name": "r_g"},
 "encoding": {
  "x": {"field": "m", "type": "quantitative", "scale": {"domain": [-0.95, 25.1]}, "axis": {"title": null, "values": [0,1,2,3,4,5,6,7,8,9,10,11,12,13,14,15,16,17,18,19,20,21,22,23,24,25], "offset": 15, "tickSize": {"condition": {"test": "datum.value == 10 || datum.value == 22", "value": 26}, "value": 11}, "labels": true, "labelOverlap": false, "labelFontSize": 11, "labelPadding": 10, "labelLineHeight": 14, "labelFont": "DejaVu Sans Condensed, DejaVu Sans", "labelExpr": "datum.value == 5 ? ['J', '1965'] : datum.value == 16 ? ['J', '1966'] : datum.value == 24 ? ['F', '1967'] : substring('FMAMJJASONDJFMAMJJASONDJFM', datum.value, datum.value + 1)"}},
  "y": {"field": "v", "type": "quantitative", "stack": null, "scale": {"domain": [0, 100]}, "axis": {"title": "mm", "titleX": -30, "titleY": 79, "titleAngle": 0, "titleAlign": "center", "titleBaseline": "middle", "titleFontSize": 13, "titleFont": "DejaVu Sans", "titleFontWeight": "bold", "titleColor": "#1f4742", "values": [0,10,20,30,40,50,60,70,80,90], "labels": true, "labelExpr": "datum.value % 20 == 0 ? datum.label : ''", "labelPadding": 6, "domainColor": "#1f4742", "tickColor": "#1f4742", "labelColor": "#1f4742"}}
 },
 "layer": [
  {"mark": {"type": "bar", "orient": "vertical", "size": 7, "stroke": "#1c2233", "strokeWidth": 1.3, "xOffset": {"expr": "datum.s == 'A' ? -3.5 : 3.5"}}, "encoding": {"fill": {"field": "s", "type": "nominal", "scale": {"domain": ["A", "N"], "range": ["#1c2233", "#ffffff"]}, "legend": null}}}
 ]
},
{
 "width": 369, "height": 160,
 "title": {"text": "\u2500\u2500\u2500\u2500\u2500\u2500\u00a0Monthly\u00a0\u00a0\u00a0rainfall\u00a0\u00a0\u2500\u2500\u2500\u2500\u2500\u2500\u2500\u2500", "font": "Liberation Sans Narrow, DejaVu Sans Condensed, DejaVu Sans", "fontSize": 25, "offset": -26, "dx": 0, "frame": "group"},
 "data": {"name": "r_n"},
 "encoding": {
  "x": {"field": "m", "type": "quantitative", "scale": {"domain": [-0.95, 22.1]}, "axis": {"title": null, "values": [0,1,2,3,4,5,6,7,8,9,10,11,12,13,14,15,16,17,18,19,20,21,22], "offset": 15, "tickSize": {"condition": {"test": "datum.value == 2 || datum.value == 14", "value": 26}, "value": 11}, "labels": true, "labelOverlap": false, "labelFontSize": 11, "labelPadding": 10, "labelLineHeight": 14, "labelFont": "DejaVu Sans Condensed, DejaVu Sans", "labelExpr": "datum.value == 0 ? ['O', '1964'] : datum.value == 8 ? ['J', '1965'] : datum.value == 19 ? ['M', '1966'] : substring('ONDJFMAMJJASONDJFMAMJJA', datum.value, datum.value + 1)"}},
  "y": {"field": "v", "type": "quantitative", "stack": null, "scale": {"domain": [0, 100]}, "axis": {"title": null, "values": [0,10,20,30,40,50,60,70,80,90]}}
 },
 "layer": [
  {"mark": {"type": "bar", "orient": "vertical", "size": 7, "stroke": "#1c2233", "strokeWidth": 1.3, "xOffset": {"expr": "datum.s == 'A' ? -3.5 : 3.5"}}, "encoding": {"fill": {"field": "s", "type": "nominal", "scale": {"domain": ["A", "N"], "range": ["#1c2233", "#ffffff"]}, "legend": {"title": null, "orient": "none", "legendX": 42, "legendY": 29, "symbolType": "square", "symbolSize": 40, "symbolStrokeColor": "#1c1c1c", "symbolStrokeWidth": 1.3, "labelFontSize": 7, "labelFont": "DejaVu Sans Condensed, DejaVu Sans", "labelFontWeight": "bold", "labelColor": "#1c1c1c", "labelOffset": 6, "rowPadding": 3, "labelExpr": "datum.label == 'A' ? '1964 - 1967' : 'Normal'"}}}}
 ]
},
{
 "width": 423, "height": 160,
 "data": {"name": "r_k"},
 "encoding": {
  "x": {"field": "m", "type": "quantitative", "scale": {"domain": [-0.95, 25.2]}, "axis": {"title": null, "values": [0,1,2,3,4,5,6,7,8,9,10,11,12,13,14,15,16,17,18,19,20,21,22,23,24,25], "offset": 15, "tickSize": {"condition": {"test": "datum.value == 10 || datum.value == 22", "value": 26}, "value": 11}, "labels": true, "labelOverlap": false, "labelFontSize": 11, "labelPadding": 10, "labelLineHeight": 14, "labelFont": "DejaVu Sans Condensed, DejaVu Sans", "labelExpr": "datum.value == 5 ? ['J', '1965'] : datum.value == 16 ? ['J', '1966'] : datum.value == 24 ? ['F', '1967'] : substring('FMAMJJASONDJFMAMJJASONDJFM', datum.value, datum.value + 1)"}},
  "y": {"field": "v", "type": "quantitative", "stack": null, "scale": {"domain": [0, 100]}, "axis": {"title": null, "values": [0,10,20,30,40,50,60,70,80,90]}}
 },
 "layer": [
  {"mark": {"type": "bar", "orient": "vertical", "size": 7, "stroke": "#1c2233", "strokeWidth": 1.3, "xOffset": {"expr": "datum.s == 'A' ? -3.5 : 3.5"}}, "encoding": {"fill": {"field": "s", "type": "nominal", "scale": {"domain": ["A", "N"], "range": ["#1c2233", "#ffffff"]}, "legend": null}}}
 ]
}
],
"config": {
 "view": {"stroke": null},
 "font": "DejaVu Sans",
 "axis": {"grid": false, "domainColor": "#1c1c1c", "domainWidth": 1.6, "tickColor": "#1c1c1c", "tickWidth": 1.6, "labelFont": "DejaVu Sans", "labelFontWeight": "bold", "labelColor": "#1c1c1c", "labelFontSize": 9},
 "axisX": {"offset": 16, "labels": false},
 "axisY": {"tickSize": 16, "labels": false},
 "title": {"color": "#1c1c1c", "fontWeight": "bold", "anchor": "middle"}
}
}
